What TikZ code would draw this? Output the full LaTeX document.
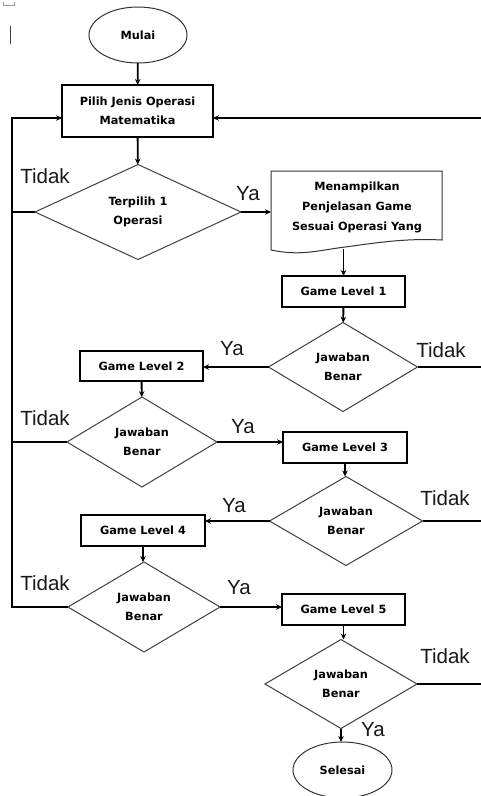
\documentclass[tikz,border=0pt]{standalone}
\usepackage{fontspec}
\setmainfont{DejaVu Sans}
\newfontfamily\labfont{Liberation Sans}
\usetikzlibrary{shapes.geometric,arrows.meta,calc}
\begin{document}
\begin{tikzpicture}[x=1pt,y=-1pt,
  every node/.style={inner sep=0pt,outer sep=0pt},
  txt/.style={font=\fontsize{11.3}{19}\selectfont\bfseries,align=center,text=black},
  procbox/.style={txt,draw=black,line width=1.1pt,rectangle,minimum width=123pt,minimum height=31pt},
  decision/.style={txt,draw=black!75,line width=1pt,diamond,aspect=1.67},
  terminal/.style={txt,draw=black!80,line width=1pt,ellipse,minimum width=98pt,minimum height=56pt},
  conn/.style={line width=1.8pt,black},
  arr/.style={conn,-{Stealth[length=6pt,width=5.5pt]}},
  lab/.style={font=\labfont\fontsize{20.5}{20.5}\selectfont,text=black!90}
]
\useasboundingbox (0,0) rectangle (481,796);
\fill[white] (0,0) rectangle (481,796);

% cursor artefacts
\draw[black!40,line width=0.8pt] (3,1.5) -- (3,5) -- (14,5) -- (14,1.5);
\draw[black!75,line width=1pt] (10,26) -- (10,44);

% nodes
\node[terminal] (mulai) at (138,35) {Mulai};
\node[procbox,minimum width=151pt,minimum height=52pt] (pilih) at (137.5,111) {Pilih Jenis Operasi\\Matematika};
\node[decision,minimum width=206pt,minimum height=95pt] (d1) at (138,212) {Terpilih 1\\Operasi};
\node[rectangle,minimum width=171pt,minimum height=80pt] (doc) at (356.5,211) {};
\node[txt,font=\fontsize{11.3}{20}\selectfont\bfseries] (doctext) at (357,207) {Menampilkan\\Penjelasan Game\\Sesuai Operasi Yang};
\draw[black!80,line width=1pt] (doc.north west) -- (doc.north east) -- (442,240)
  .. controls (405,238) and (375,243) .. (345,247)
  .. controls (315,251) and (300,256) .. (271,250) -- cycle;

\node[procbox] (gl1) at (343.5,291.5) {Game Level 1};
\node[decision,minimum width=149pt,minimum height=89pt] (d2) at (343,367) {Jawaban\\Benar};
\node[procbox,minimum height=30pt] (gl2) at (141.5,366) {Game Level 2};
\node[decision,minimum width=150pt,minimum height=90pt] (d3) at (142,442) {Jawaban\\Benar};
\node[procbox,minimum width=124pt] (gl3) at (345,447.5) {Game Level 3};
\node[decision,minimum width=153pt,minimum height=89pt] (d4) at (346,521) {Jawaban\\Benar};
\node[procbox,minimum width=124pt] (gl4) at (143,530.5) {Game Level 4};
\node[decision,minimum width=152pt,minimum height=90pt] (d5) at (144,607) {Jawaban\\Benar};
\node[procbox] (gl5) at (343.5,609.5) {Game Level 5};
\node[decision,minimum width=152pt,minimum height=89pt] (d6) at (341,684) {Jawaban\\Benar};
\node[terminal,minimum width=99pt] (selesai) at (342.5,770) {Selesai};

% edge coordinates
\coordinate (rin) at (481,118);
\coordinate (lin) at (12,118);
\coordinate (lbot) at (12,607);
\coordinate (r2) at (481,367);
\coordinate (r4) at (481,521);
\coordinate (r6) at (481,684);

% connectors
\draw[arr] (mulai) -- (pilih);
\draw[arr] (pilih) -- (d1);
\draw[arr] (d1.east) -- (d1.east -| doc.west);
\draw[arr] (gl1.north |- 0,249) -- (gl1.north);
\draw[arr] (gl1) -- (d2);
\draw[arr] (d2.west) -- (d2.west -| gl2.east);
\draw[conn] (d2.east) -- (r2);
\draw[arr] (gl2) -- (d3);
\draw[arr] (d3.east) -- (d3.east -| gl3.west);
\draw[arr] (gl3.south) -- (gl3.south |- d4.north);
\draw[arr] (d4.west) -- (d4.west -| gl4.east);
\draw[conn] (d4.east) -- (r4);
\draw[arr] (gl4.south) -- (gl4.south |- d5.north);
\draw[arr] (d5.east) -- (d5.east -| gl5.west);
\draw[arr] (gl5.south) -- (gl5.south |- d6.north);
\draw[conn] (d6.east) -- (r6);
\draw[arr] (d6.south) -- (d6.south |- selesai.north);

% left return loop
\draw[arr] (d5.west) -- (lbot) -- (lin) -- (lin -| pilih.west);
\draw[conn] (d1.west) -- (d1.west -| lin);
\draw[conn] (d3.west) -- (d3.west -| lin);
% right return
\draw[arr] (rin) -- (rin -| pilih.east);

% labels
\node[lab] (t1) at (45,176) {Tidak};
\node[lab] (y1) at (248,194) {Ya};
\node[lab] (y2) at (232,349) {Ya};
\node[lab] (t2) at (441,350) {Tidak};
\node[lab] (t3) at (45,418) {Tidak};
\node[lab] (y3) at (243,427) {Ya};
\node[lab] (y4) at (234,506) {Ya};
\node[lab] (t4) at (445,498) {Tidak};
\node[lab] (t5) at (45,583) {Tidak};
\node[lab] (y5) at (239,588) {Ya};
\node[lab] (t6) at (445,656) {Tidak};
\node[lab] (y6) at (373,730) {Ya};
\end{tikzpicture}
\end{document}
